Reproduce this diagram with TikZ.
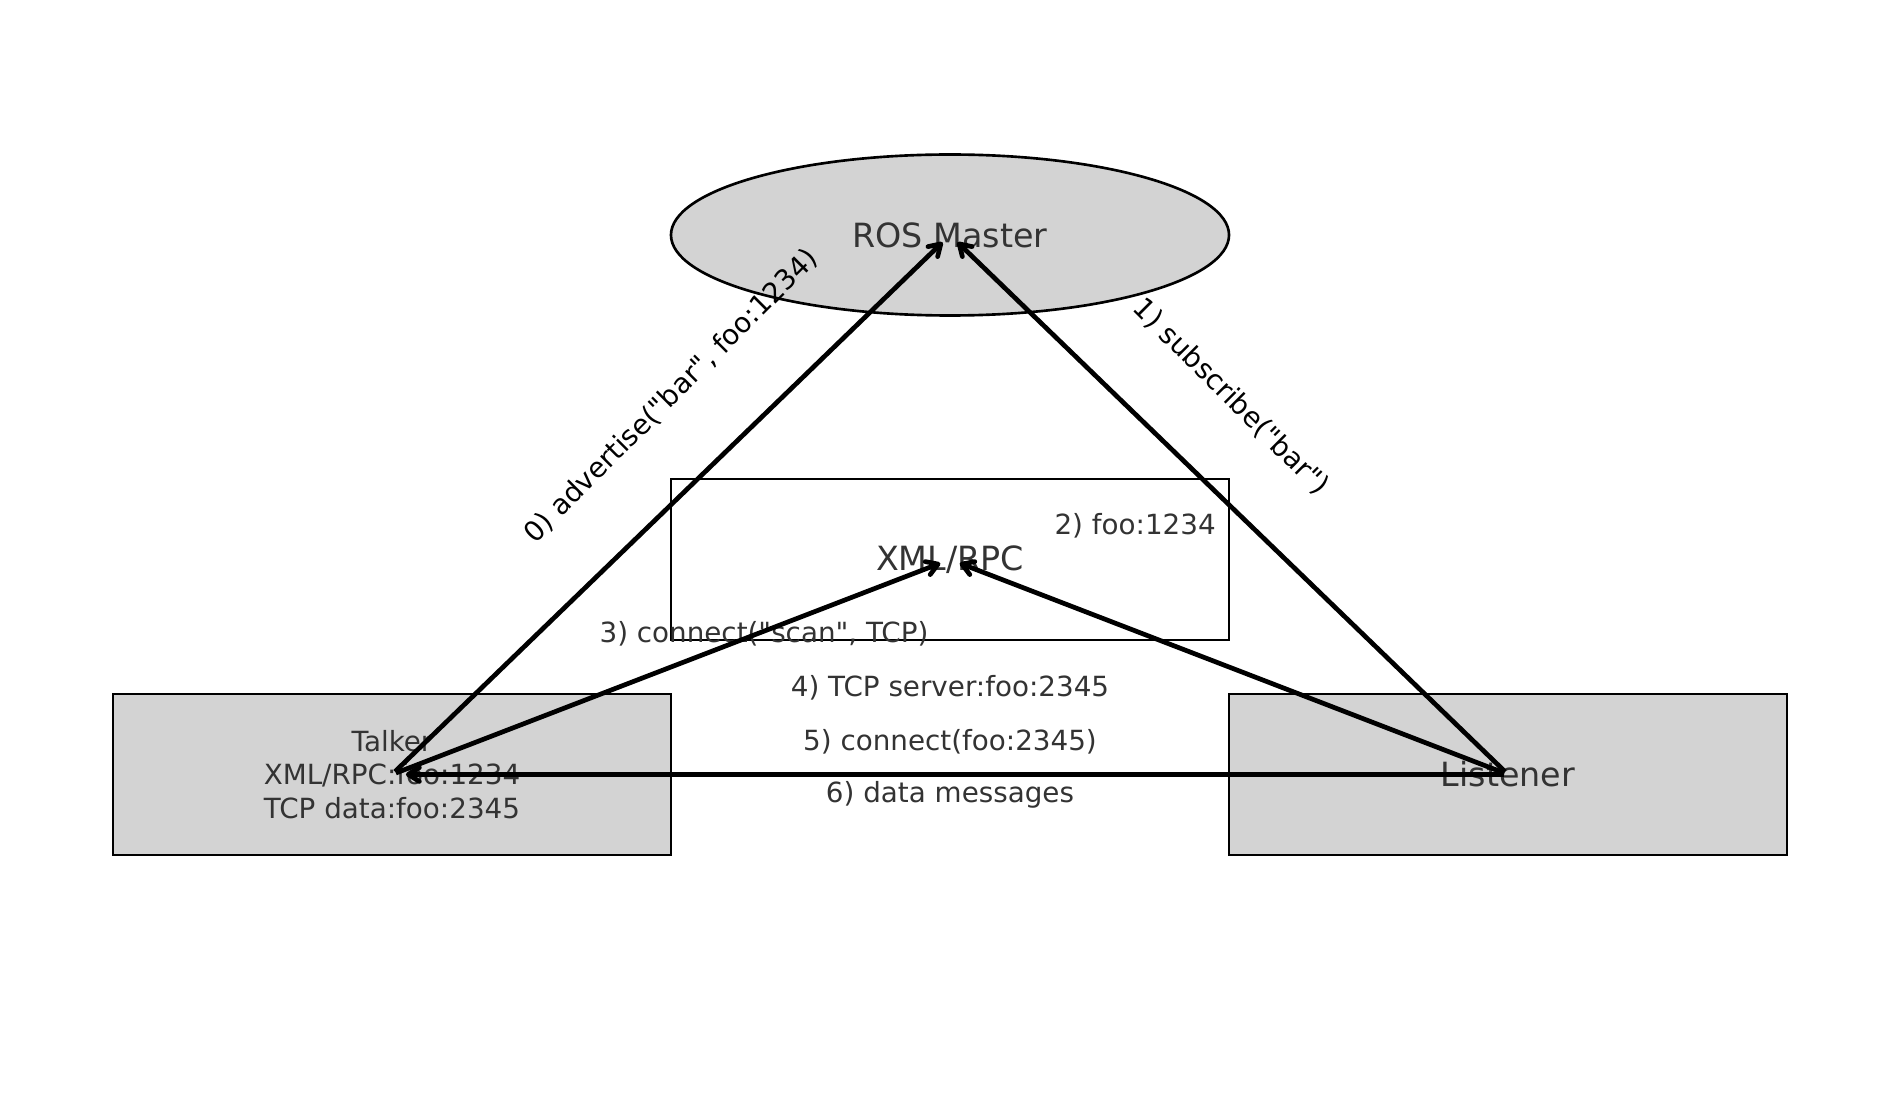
\documentclass[tikz,border=0pt]{standalone}
\usepackage{fontspec}
\setmainfont{DejaVu Sans}[Ligatures=TeXOff]
\usetikzlibrary{shapes.geometric,arrows.meta}
\definecolor{txtgrey}{HTML}{333333}
\definecolor{boxgrey}{HTML}{D3D3D3}
\begin{document}
\begin{tikzpicture}[x=0.72pt,y=-0.72pt,
  boxnode/.style={draw=black, line width=1.9pt, minimum width=401.8pt, minimum height=115.9pt, inner sep=0pt, text=txtgrey, align=center},
  bigtext/.style={font=\fontsize{24}{29}\selectfont},
  smalltext/.style={font=\fontsize{20}{24}\selectfont},
  midlabel/.style={smalltext, text=txtgrey, inner sep=0pt},
  rotlabel/.style={smalltext, text=black, inner sep=0pt},
  arr/.style={line width=3.4pt, line join=round, -{Straight Barb[length=8pt,width=10pt,round]}, shorten <=3pt, shorten >=7.5pt}]
\useasboundingbox (0,0) rectangle (1900,1118);

% shapes
\node[boxnode, ellipse, fill=boxgrey, bigtext] (master) at (950,235) {ROS Master};
\node[boxnode, rectangle, bigtext] (xml) at (950,559.5) {XML/RPC};
\node[boxnode, rectangle, fill=boxgrey, smalltext] (talker) at (392,774.5) {Talker\\XML/RPC:foo:1234\\TCP data:foo:2345};
\node[boxnode, rectangle, fill=boxgrey, bigtext] (listener) at (1508,774.5) {Listener};

% labels
\node[rotlabel, rotate=45] (l0) at (671,396) {0) advertise("bar", foo:1234)};
\node[rotlabel, rotate=-45] (l1) at (1231,397) {1) subscribe("bar")};
\node[midlabel, anchor=east] (l2) at (1216,526) {2) foo:1234};
\node[midlabel] (l3) at (764,634) {3) connect("scan", TCP)};
\node[midlabel] (l4) at (950,688) {4) TCP server:foo:2345};
\node[midlabel] (l5) at (950,742) {5) connect(foo:2345)};
\node[midlabel] (l6) at (950,795) {6) data messages};

% connectors
\draw[arr] (talker.center) -- (master.center);
\draw[arr] (listener.center) -- (master.center);
\draw[arr] (talker.center) -- (xml.center);
\draw[arr] (listener.center) -- (xml.center);
\draw[arr, shorten >=10pt] (listener.center) -- (talker.center);
\end{tikzpicture}
\end{document}
